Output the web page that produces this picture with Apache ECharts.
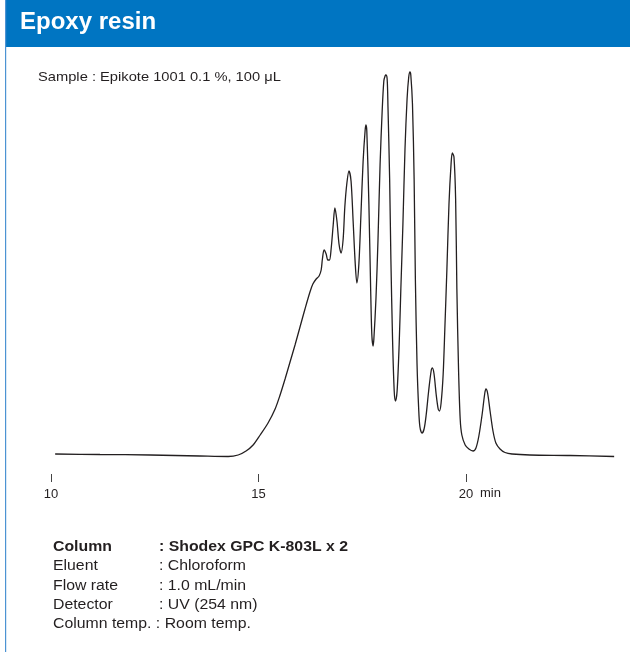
<!DOCTYPE html>
<html>
<head>
<meta charset="utf-8">
<script src="https://cdn.jsdelivr.net/npm/echarts@6/dist/echarts.min.js"></script>
<style>
  html, body { margin: 0; padding: 0; background: #fff; }
  #chart { width: 630px; height: 652px; }
</style>
</head>
<body>
<div id="chart"></div>
<script>
// GPC chromatogram of Epikote 1001 (retention time in min, detector response in arbitrary units)
const retentionTime = [
  10.10, 11.18, 12.39, 13.59, 14.27, 14.51, 14.70, 14.87, 15.04, 15.23,
  15.40, 15.52, 15.64, 15.76, 15.88, 16.00, 16.12, 16.24, 16.31, 16.39,
  16.46, 16.51, 16.54, 16.58, 16.63, 16.67, 16.71, 16.75, 16.80, 16.84,
  16.89, 16.94, 16.99, 17.04, 17.08, 17.13, 17.18, 17.23, 17.28, 17.33,
  17.37, 17.42, 17.47, 17.52, 17.57, 17.59, 17.61, 17.66, 17.70, 17.73,
  17.76, 17.78, 17.83, 17.88, 17.93, 17.98, 18.02, 18.05, 18.07, 18.10,
  18.12, 18.16, 18.19, 18.23, 18.27, 18.30, 18.34, 18.39, 18.43, 18.48,
  18.53, 18.58, 18.62, 18.65, 18.67, 18.71, 18.75, 18.78, 18.82, 18.86,
  18.89, 18.94, 18.99, 19.04, 19.10, 19.16, 19.19, 19.23, 19.28, 19.33,
  19.36, 19.40, 19.45, 19.49, 19.54, 19.59, 19.64, 19.67, 19.71, 19.75,
  19.78, 19.82, 19.86, 19.90, 19.98, 20.07, 20.17, 20.24, 20.31, 20.39,
  20.45, 20.48, 20.52, 20.58, 20.65, 20.72, 20.82, 20.94, 21.11, 21.54,
  22.51, 23.57
];
const response = [
  3, 2.5, 2, 1, 0.5, 2, 6, 12, 22, 34,
  48, 62, 78, 95, 112, 130, 148, 165, 173, 178,
  181, 187, 198, 207, 203, 197, 197, 208, 232, 249,
  236, 213, 204, 218, 250, 274, 286, 276, 236, 194,
  174, 194, 244, 295, 327, 332, 326, 253, 173, 123,
  111, 118, 158, 218, 293, 346, 376, 381, 382, 378,
  350, 278, 198, 118, 66, 56, 66, 113, 168, 233,
  308, 358, 380, 385, 382, 353, 278, 178, 93, 48,
  30, 24, 28, 42, 66, 86, 89, 83, 63, 48,
  46, 54, 83, 128, 188, 253, 293, 304, 300, 258,
  168, 88, 38, 22, 12, 8, 6, 9, 21, 43,
  63, 68, 64, 46, 26, 14, 8, 4.5, 3, 2,
  1.5, 0.5
];
const tickValues = [10, 15, 20];
const timeUnit = 'min';
const titleText = 'Epoxy resin';
const sampleText = 'Sample : Epikote 1001 0.1 %, 100 μL';
const conditionNames = ['Column', 'Eluent', 'Flow rate', 'Detector'];
const conditionValues = [': Shodex GPC K-803L x 2', ': Chloroform', ': 1.0 mL/min', ': UV (254 nm)'];
const tempLine = 'Column temp. : Room temp.';

const ink = '#231f20';
const font = '"Liberation Sans", Arial, Helvetica, sans-serif';
const wide = 1.13; // horizontal stretch of the annotation typeface

const chart = echarts.init(document.getElementById('chart'), null, { renderer: 'canvas' });

const points = retentionTime.map((t, i) => [t, response[i]]);

const graphics = [
  { type: 'rect', shape: { x: 5, y: 0, width: 625, height: 47 }, style: { fill: '#0075c2' }, silent: true },
  { type: 'rect', shape: { x: 5, y: 0, width: 1.2, height: 652 }, style: { fill: '#4c93d3' }, silent: true },
  { type: 'text', x: 20, y: 10, style: { text: titleText, fill: '#fff', font: 'bold 24px ' + font } },
  { type: 'text', x: 38, y: 71, scaleX: wide, style: { text: sampleText, fill: ink, font: '13px ' + font } }
];
conditionNames.forEach((name, i) => {
  const y = 540 + i * 19.4;
  const weight = i === 0 ? 'bold ' : '';
  graphics.push({ type: 'text', x: 53, y: y, scaleX: wide, style: { text: name, fill: ink, font: weight + '14px ' + font } });
  graphics.push({ type: 'text', x: 159, y: y, scaleX: wide, style: { text: conditionValues[i], fill: ink, font: weight + '14px ' + font } });
});
graphics.push({ type: 'text', x: 53, y: 540 + 4 * 19.4, scaleX: wide, style: { text: tempLine, fill: ink, font: '14px ' + font } });

chart.setOption({
  animation: false,
  backgroundColor: '#fff',
  grid: { left: 51, right: 14.6, top: 57, height: 417 },
  xAxis: {
    type: 'value',
    min: 10,
    max: 23.6,
    axisLine: { show: false, onZero: false },
    splitLine: { show: false },
    axisTick: { show: true, length: 8, customValues: tickValues, lineStyle: { color: '#444', width: 1 } },
    axisLabel: {
      customValues: tickValues,
      margin: 14,
      color: ink,
      fontFamily: font,
      fontSize: 13
    }
  },
  yAxis: {
    type: 'value',
    min: -17,
    max: 400,
    show: false
  },
  series: [{
    type: 'line',
    data: points,
    smooth: 0.3,
    symbol: 'none',
    lineStyle: { color: ink, width: 1.3 }
  }],
  graphic: graphics
});

// unit label placed just right of the last tick label
const x20 = chart.convertToPixel({ xAxisIndex: 0 }, tickValues[tickValues.length - 1]);
chart.setOption({
  graphic: graphics.concat([{
    type: 'text', x: x20 + 14, y: 487,
    style: { text: timeUnit, fill: ink, font: '13px ' + font }
  }])
});
</script>
</body>
</html>
